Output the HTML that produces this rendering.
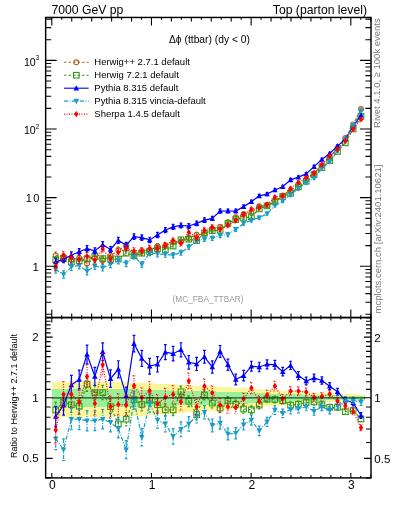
<!DOCTYPE html>
<html><head><meta charset="utf-8"><style>html,body{margin:0;padding:0;background:#fff;width:393px;height:512px;overflow:hidden}svg{display:block;will-change:transform}</style></head><body>
<svg width="393" height="512" viewBox="0 0 393 512">
<rect width="393" height="512" fill="#fff"/>
<path d="M51.80 381.81H59.63V417.27H51.80ZM59.63 381.88H67.46V417.16H59.63ZM67.46 381.95H75.28V417.05H67.46ZM75.28 382.03H83.11V416.95H75.28ZM83.11 382.10H90.94V416.84H83.11ZM90.94 382.17H98.77V416.73H90.94ZM98.77 382.25H106.60V416.62H98.77ZM106.60 382.32H114.42V416.51H106.60ZM114.42 382.39H122.25V416.40H114.42ZM122.25 382.47H130.08V416.29H122.25ZM130.08 382.54H137.91V416.19H130.08ZM137.91 382.91H145.74V415.65H137.91ZM145.74 383.28H153.56V415.11H145.74ZM153.56 383.65H161.39V414.58H153.56ZM161.39 384.02H169.22V414.05H161.39ZM169.22 384.40H177.05V413.53H169.22ZM177.05 384.77H184.88V413.01H177.05ZM184.88 385.15H192.71V412.49H184.88ZM192.71 385.53H200.53V411.97H192.71ZM200.53 385.91H208.36V411.46H200.53ZM208.36 386.39H216.19V410.82H208.36ZM216.19 386.87H224.02V410.19H216.19ZM224.02 387.36H231.85V409.56H224.02ZM231.85 387.84H239.67V408.94H231.85ZM239.67 388.35H247.50V408.30H239.67ZM247.50 388.85H255.33V407.67H247.50ZM255.33 389.36H263.16V407.04H255.33ZM263.16 389.87H270.99V406.42H263.16ZM270.99 390.39H278.81V405.80H270.99ZM278.81 390.91H286.64V405.18H278.81ZM286.64 391.43H294.47V404.57H286.64ZM294.47 391.84H302.30V404.10H294.47ZM302.30 392.25H310.13V403.63H302.30ZM310.13 392.66H317.95V403.17H310.13ZM317.95 393.07H325.78V402.70H317.95ZM325.78 393.49H333.61V402.24H325.78ZM333.61 393.80H341.44V401.90H333.61ZM341.44 394.11H349.27V401.55H341.44ZM349.27 394.43H357.09V401.21H349.27ZM357.09 394.75H364.92V400.87H357.09Z" fill="#fdf59a" shape-rendering="crispEdges"/>
<path d="M51.80 389.42H59.63V406.97H51.80ZM59.63 389.42H67.46V406.97H59.63ZM67.46 389.42H75.28V406.97H67.46ZM75.28 389.42H83.11V406.97H75.28ZM83.11 389.42H90.94V406.97H83.11ZM90.94 389.42H98.77V406.97H90.94ZM98.77 389.42H106.60V406.97H98.77ZM106.60 389.42H114.42V406.97H106.60ZM114.42 389.42H122.25V406.97H114.42ZM122.25 389.42H130.08V406.97H122.25ZM130.08 389.42H137.91V406.97H130.08ZM137.91 389.66H145.74V406.68H137.91ZM145.74 389.90H153.56V406.39H145.74ZM153.56 390.14H161.39V406.10H153.56ZM161.39 390.38H169.22V405.81H161.39ZM169.22 390.62H177.05V405.52H169.22ZM177.05 390.76H184.88V405.36H177.05ZM184.88 390.90H192.71V405.19H184.88ZM192.71 391.04H200.53V405.02H192.71ZM200.53 391.19H208.36V404.86H200.53ZM208.36 391.35H216.19V404.67H208.36ZM216.19 391.51H224.02V404.48H216.19ZM224.02 391.67H231.85V404.29H224.02ZM231.85 391.84H239.67V404.10H231.85ZM239.67 392.19H247.50V403.70H239.67ZM247.50 392.54H255.33V403.30H247.50ZM255.33 392.89H263.16V402.90H255.33ZM263.16 393.25H270.99V402.50H263.16ZM270.99 393.61H278.81V402.11H270.99ZM278.81 393.96H286.64V401.72H278.81ZM286.64 394.32H294.47V401.33H286.64ZM294.47 394.49H302.30V401.14H294.47ZM302.30 394.66H310.13V400.96H302.30ZM310.13 394.83H317.95V400.78H310.13ZM317.95 395.00H325.78V400.60H317.95ZM325.78 395.17H333.61V400.42H325.78ZM333.61 395.38H341.44V400.19H333.61ZM341.44 395.60H349.27V399.97H341.44ZM349.27 395.81H357.09V399.75H349.27ZM357.09 396.02H364.92V399.52H357.09Z" fill="#9cf09a" shape-rendering="crispEdges"/>
<defs><clipPath id="cu"><rect x="45.6" y="17.4" width="325.4" height="300.1"/></clipPath>
<clipPath id="cl"><rect x="45.6" y="317.6" width="325.4" height="160.3"/></clipPath></defs>
<g clip-path="url(#cl)"><polyline points="55.71,410.00 63.54,402.30 71.37,404.80 79.20,406.30 87.03,384.00 94.85,392.60 102.68,392.60 110.51,406.70 118.34,423.90 126.17,419.20 133.99,399.60 141.82,404.40 149.65,400.40 157.48,404.70 165.31,409.80 173.13,409.80 180.96,391.80 188.79,401.20 196.62,414.60 204.45,394.90 212.28,403.10 220.10,408.00 227.93,401.10 235.76,404.30 243.59,409.00 251.42,409.80 259.24,405.10 267.07,399.00 274.90,399.50 282.73,400.60 290.56,405.10 298.38,404.30 306.21,402.50 314.04,402.00 321.87,404.60 329.70,407.30 337.52,407.30 345.35,411.70 353.18,410.50 361.01,419.00" fill="none" stroke="#3a9a1a" stroke-width="1.2" stroke-dasharray="2.5,2"/><path d="M55.71 402.00V418.00M54.31 402.00H57.11M54.31 418.00H57.11M63.54 394.44V410.16M62.14 394.44H64.94M62.14 410.16H64.94M71.37 397.09V412.51M69.97 397.09H72.77M69.97 412.51H72.77M79.20 398.73V413.87M77.80 398.73H80.60M77.80 413.87H80.60M87.03 376.57V391.43M85.63 376.57H88.43M85.63 391.43H88.43M94.85 385.31V399.89M93.45 385.31H96.25M93.45 399.89H96.25M102.68 385.46V399.74M101.28 385.46H104.08M101.28 399.74H104.08M110.51 399.70V413.70M109.11 399.70H111.91M109.11 413.70H111.91M118.34 417.04V430.76M116.94 417.04H119.74M116.94 430.76H119.74M126.17 412.49V425.91M124.77 412.49H127.57M124.77 425.91H127.57M133.99 393.03V406.17M132.59 393.03H135.39M132.59 406.17H135.39M141.82 397.97V410.83M140.42 397.97H143.22M140.42 410.83H143.22M149.65 394.11V406.69M148.25 394.11H151.05M148.25 406.69H151.05M157.48 398.56V410.84M156.08 398.56H158.88M156.08 410.84H158.88M165.31 403.80V415.80M163.91 403.80H166.71M163.91 415.80H166.71M173.13 403.99V415.61M171.73 403.99H174.53M171.73 415.61H174.53M180.96 386.18V397.42M179.56 386.18H182.36M179.56 397.42H182.36M188.79 395.78V406.62M187.39 395.78H190.19M187.39 406.62H190.19M196.62 409.37V419.83M195.22 409.37H198.02M195.22 419.83H198.02M204.45 389.86V399.94M203.05 389.86H205.85M203.05 399.94H205.85M212.28 398.25V407.95M210.88 398.25H213.68M210.88 407.95H213.68M220.10 403.35V412.65M218.70 403.35H221.50M218.70 412.65H221.50M227.93 396.64V405.56M226.53 396.64H229.33M226.53 405.56H229.33M235.76 400.03V408.57M234.36 400.03H237.16M234.36 408.57H237.16M243.59 404.92V413.08M242.19 404.92H244.99M242.19 413.08H244.99M251.42 405.92V413.68M250.02 405.92H252.82M250.02 413.68H252.82M259.24 401.41V408.79M257.84 401.41H260.64M257.84 408.79H260.64M267.07 395.50V402.50M265.67 395.50H268.47M265.67 402.50H268.47M274.90 396.08V402.92M273.50 396.08H276.30M273.50 402.92H276.30M282.73 397.27V403.93M281.33 397.27H284.13M281.33 403.93H284.13M290.56 401.85V408.35M289.16 401.85H291.96M289.16 408.35H291.96M298.38 401.13V407.47M296.98 401.13H299.78M296.98 407.47H299.78M306.21 399.42V405.58M304.81 399.42H307.61M304.81 405.58H307.61M314.04 399.00V405.00M312.64 399.00H315.44M312.64 405.00H315.44M321.87 401.68V407.52M320.47 401.68H323.27M320.47 407.52H323.27M329.70 404.47V410.13M328.30 404.47H331.10M328.30 410.13H331.10M337.52 404.55V410.05M336.12 404.55H338.92M336.12 410.05H338.92M345.35 409.03V414.37M343.95 409.03H346.75M343.95 414.37H346.75M353.18 407.92V413.08M351.78 407.92H354.58M351.78 413.08H354.58M361.01 416.50V421.50M359.61 416.50H362.41M359.61 421.50H362.41" fill="none" stroke="#3a9a1a" stroke-width="1.2" stroke-dasharray="2.5,2"/><rect x="52.91" y="407.20" width="5.60" height="5.60" fill="none" stroke="#3a9a1a" stroke-width="1.1"/><rect x="60.74" y="399.50" width="5.60" height="5.60" fill="none" stroke="#3a9a1a" stroke-width="1.1"/><rect x="68.57" y="402.00" width="5.60" height="5.60" fill="none" stroke="#3a9a1a" stroke-width="1.1"/><rect x="76.40" y="403.50" width="5.60" height="5.60" fill="none" stroke="#3a9a1a" stroke-width="1.1"/><rect x="84.23" y="381.20" width="5.60" height="5.60" fill="none" stroke="#3a9a1a" stroke-width="1.1"/><rect x="92.05" y="389.80" width="5.60" height="5.60" fill="none" stroke="#3a9a1a" stroke-width="1.1"/><rect x="99.88" y="389.80" width="5.60" height="5.60" fill="none" stroke="#3a9a1a" stroke-width="1.1"/><rect x="107.71" y="403.90" width="5.60" height="5.60" fill="none" stroke="#3a9a1a" stroke-width="1.1"/><rect x="115.54" y="421.10" width="5.60" height="5.60" fill="none" stroke="#3a9a1a" stroke-width="1.1"/><rect x="123.37" y="416.40" width="5.60" height="5.60" fill="none" stroke="#3a9a1a" stroke-width="1.1"/><rect x="131.19" y="396.80" width="5.60" height="5.60" fill="none" stroke="#3a9a1a" stroke-width="1.1"/><rect x="139.02" y="401.60" width="5.60" height="5.60" fill="none" stroke="#3a9a1a" stroke-width="1.1"/><rect x="146.85" y="397.60" width="5.60" height="5.60" fill="none" stroke="#3a9a1a" stroke-width="1.1"/><rect x="154.68" y="401.90" width="5.60" height="5.60" fill="none" stroke="#3a9a1a" stroke-width="1.1"/><rect x="162.51" y="407.00" width="5.60" height="5.60" fill="none" stroke="#3a9a1a" stroke-width="1.1"/><rect x="170.33" y="407.00" width="5.60" height="5.60" fill="none" stroke="#3a9a1a" stroke-width="1.1"/><rect x="178.16" y="389.00" width="5.60" height="5.60" fill="none" stroke="#3a9a1a" stroke-width="1.1"/><rect x="185.99" y="398.40" width="5.60" height="5.60" fill="none" stroke="#3a9a1a" stroke-width="1.1"/><rect x="193.82" y="411.80" width="5.60" height="5.60" fill="none" stroke="#3a9a1a" stroke-width="1.1"/><rect x="201.65" y="392.10" width="5.60" height="5.60" fill="none" stroke="#3a9a1a" stroke-width="1.1"/><rect x="209.48" y="400.30" width="5.60" height="5.60" fill="none" stroke="#3a9a1a" stroke-width="1.1"/><rect x="217.30" y="405.20" width="5.60" height="5.60" fill="none" stroke="#3a9a1a" stroke-width="1.1"/><rect x="225.13" y="398.30" width="5.60" height="5.60" fill="none" stroke="#3a9a1a" stroke-width="1.1"/><rect x="232.96" y="401.50" width="5.60" height="5.60" fill="none" stroke="#3a9a1a" stroke-width="1.1"/><rect x="240.79" y="406.20" width="5.60" height="5.60" fill="none" stroke="#3a9a1a" stroke-width="1.1"/><rect x="248.62" y="407.00" width="5.60" height="5.60" fill="none" stroke="#3a9a1a" stroke-width="1.1"/><rect x="256.44" y="402.30" width="5.60" height="5.60" fill="none" stroke="#3a9a1a" stroke-width="1.1"/><rect x="264.27" y="396.20" width="5.60" height="5.60" fill="none" stroke="#3a9a1a" stroke-width="1.1"/><rect x="272.10" y="396.70" width="5.60" height="5.60" fill="none" stroke="#3a9a1a" stroke-width="1.1"/><rect x="279.93" y="397.80" width="5.60" height="5.60" fill="none" stroke="#3a9a1a" stroke-width="1.1"/><rect x="287.76" y="402.30" width="5.60" height="5.60" fill="none" stroke="#3a9a1a" stroke-width="1.1"/><rect x="295.58" y="401.50" width="5.60" height="5.60" fill="none" stroke="#3a9a1a" stroke-width="1.1"/><rect x="303.41" y="399.70" width="5.60" height="5.60" fill="none" stroke="#3a9a1a" stroke-width="1.1"/><rect x="311.24" y="399.20" width="5.60" height="5.60" fill="none" stroke="#3a9a1a" stroke-width="1.1"/><rect x="319.07" y="401.80" width="5.60" height="5.60" fill="none" stroke="#3a9a1a" stroke-width="1.1"/><rect x="326.90" y="404.50" width="5.60" height="5.60" fill="none" stroke="#3a9a1a" stroke-width="1.1"/><rect x="334.72" y="404.50" width="5.60" height="5.60" fill="none" stroke="#3a9a1a" stroke-width="1.1"/><rect x="342.55" y="408.90" width="5.60" height="5.60" fill="none" stroke="#3a9a1a" stroke-width="1.1"/><rect x="350.38" y="407.70" width="5.60" height="5.60" fill="none" stroke="#3a9a1a" stroke-width="1.1"/><rect x="358.21" y="416.20" width="5.60" height="5.60" fill="none" stroke="#3a9a1a" stroke-width="1.1"/></g>
<g clip-path="url(#cl)"><polyline points="55.71,416.40 63.54,405.30 71.37,385.00 79.20,379.50 87.03,354.50 94.85,376.40 102.68,351.80 110.51,378.70 118.34,369.30 126.17,395.60 133.99,343.60 141.82,358.40 149.65,366.20 157.48,364.30 165.31,352.20 173.13,353.70 180.96,349.80 188.79,362.30 196.62,363.90 204.45,356.80 212.28,367.00 220.10,351.40 227.93,364.70 235.76,379.50 243.59,375.60 251.42,366.20 259.24,367.00 267.07,364.30 274.90,364.70 282.73,371.70 290.56,365.40 298.38,375.60 306.21,381.00 314.04,377.90 321.87,380.50 329.70,386.20 337.52,391.70 345.35,400.30 353.18,402.70 361.01,415.50" fill="none" stroke="#0000ff" stroke-width="1.2"/><path d="M55.71 406.40V426.40M54.31 406.40H57.11M54.31 426.40H57.11M63.54 395.48V415.12M62.14 395.48H64.94M62.14 415.12H64.94M71.37 375.36V394.64M69.97 375.36H72.77M69.97 394.64H72.77M79.20 370.04V388.96M77.80 370.04H80.60M77.80 388.96H80.60M87.03 345.21V363.79M85.63 345.21H88.43M85.63 363.79H88.43M94.85 367.29V385.51M93.45 367.29H96.25M93.45 385.51H96.25M102.68 342.87V360.73M101.28 342.87H104.08M101.28 360.73H104.08M110.51 369.95V387.45M109.11 369.95H111.91M109.11 387.45H111.91M118.34 360.73V377.87M116.94 360.73H119.74M116.94 377.87H119.74M126.17 387.21V403.99M124.77 387.21H127.57M124.77 403.99H127.57M133.99 335.39V351.81M132.59 335.39H135.39M132.59 351.81H135.39M141.82 350.36V366.44M140.42 350.36H143.22M140.42 366.44H143.22M149.65 358.34V374.06M148.25 358.34H151.05M148.25 374.06H151.05M157.48 356.62V371.98M156.08 356.62H158.88M156.08 371.98H158.88M165.31 344.70V359.70M163.91 344.70H166.71M163.91 359.70H166.71M173.13 346.43V360.97M171.73 346.43H174.53M171.73 360.97H174.53M180.96 342.76V356.84M179.56 342.76H182.36M179.56 356.84H182.36M188.79 355.49V369.11M187.39 355.49H190.19M187.39 369.11H190.19M196.62 357.32V370.48M195.22 357.32H198.02M195.22 370.48H198.02M204.45 350.45V363.15M203.05 350.45H205.85M203.05 363.15H205.85M212.28 360.88V373.12M210.88 360.88H213.68M210.88 373.12H213.68M220.10 345.52V357.28M218.70 345.52H221.50M218.70 357.28H221.50M227.93 359.05V370.35M226.53 359.05H229.33M226.53 370.35H229.33M235.76 374.08V384.92M234.36 374.08H237.16M234.36 384.92H237.16M243.59 370.41V380.79M242.19 370.41H244.99M242.19 380.79H244.99M251.42 361.24V371.16M250.02 361.24H252.82M250.02 371.16H252.82M259.24 362.27V371.73M257.84 362.27H260.64M257.84 371.73H260.64M267.07 359.80V368.80M265.67 359.80H268.47M265.67 368.80H268.47M274.90 360.32V369.07M273.50 360.32H276.30M273.50 369.07H276.30M282.73 367.45V375.95M281.33 367.45H284.13M281.33 375.95H284.13M290.56 361.27V369.52M289.16 361.27H291.96M289.16 369.52H291.96M298.38 371.60V379.60M296.98 371.60H299.78M296.98 379.60H299.78M306.21 377.12V384.88M304.81 377.12H307.61M304.81 384.88H307.61M314.04 374.15V381.65M312.64 374.15H315.44M312.64 381.65H315.44M321.87 376.88V384.12M320.47 376.88H323.27M320.47 384.12H323.27M329.70 382.70V389.70M328.30 382.70H331.10M328.30 389.70H331.10M337.52 388.32V395.07M336.12 388.32H338.92M336.12 395.07H338.92M345.35 397.05V403.55M343.95 397.05H346.75M343.95 403.55H346.75M353.18 399.57V405.82M351.78 399.57H354.58M351.78 405.82H354.58M361.01 412.50V418.50M359.61 412.50H362.41M359.61 418.50H362.41" fill="none" stroke="#0000ff" stroke-width="1.2"/><path d="M55.71 413.40L58.46 418.70L52.96 418.70Z" fill="#0000ff"/><path d="M63.54 402.30L66.29 407.60L60.79 407.60Z" fill="#0000ff"/><path d="M71.37 382.00L74.12 387.30L68.62 387.30Z" fill="#0000ff"/><path d="M79.20 376.50L81.95 381.80L76.45 381.80Z" fill="#0000ff"/><path d="M87.03 351.50L89.78 356.80L84.28 356.80Z" fill="#0000ff"/><path d="M94.85 373.40L97.60 378.70L92.10 378.70Z" fill="#0000ff"/><path d="M102.68 348.80L105.43 354.10L99.93 354.10Z" fill="#0000ff"/><path d="M110.51 375.70L113.26 381.00L107.76 381.00Z" fill="#0000ff"/><path d="M118.34 366.30L121.09 371.60L115.59 371.60Z" fill="#0000ff"/><path d="M126.17 392.60L128.92 397.90L123.42 397.90Z" fill="#0000ff"/><path d="M133.99 340.60L136.74 345.90L131.24 345.90Z" fill="#0000ff"/><path d="M141.82 355.40L144.57 360.70L139.07 360.70Z" fill="#0000ff"/><path d="M149.65 363.20L152.40 368.50L146.90 368.50Z" fill="#0000ff"/><path d="M157.48 361.30L160.23 366.60L154.73 366.60Z" fill="#0000ff"/><path d="M165.31 349.20L168.06 354.50L162.56 354.50Z" fill="#0000ff"/><path d="M173.13 350.70L175.88 356.00L170.38 356.00Z" fill="#0000ff"/><path d="M180.96 346.80L183.71 352.10L178.21 352.10Z" fill="#0000ff"/><path d="M188.79 359.30L191.54 364.60L186.04 364.60Z" fill="#0000ff"/><path d="M196.62 360.90L199.37 366.20L193.87 366.20Z" fill="#0000ff"/><path d="M204.45 353.80L207.20 359.10L201.70 359.10Z" fill="#0000ff"/><path d="M212.28 364.00L215.03 369.30L209.53 369.30Z" fill="#0000ff"/><path d="M220.10 348.40L222.85 353.70L217.35 353.70Z" fill="#0000ff"/><path d="M227.93 361.70L230.68 367.00L225.18 367.00Z" fill="#0000ff"/><path d="M235.76 376.50L238.51 381.80L233.01 381.80Z" fill="#0000ff"/><path d="M243.59 372.60L246.34 377.90L240.84 377.90Z" fill="#0000ff"/><path d="M251.42 363.20L254.17 368.50L248.67 368.50Z" fill="#0000ff"/><path d="M259.24 364.00L261.99 369.30L256.49 369.30Z" fill="#0000ff"/><path d="M267.07 361.30L269.82 366.60L264.32 366.60Z" fill="#0000ff"/><path d="M274.90 361.70L277.65 367.00L272.15 367.00Z" fill="#0000ff"/><path d="M282.73 368.70L285.48 374.00L279.98 374.00Z" fill="#0000ff"/><path d="M290.56 362.40L293.31 367.70L287.81 367.70Z" fill="#0000ff"/><path d="M298.38 372.60L301.13 377.90L295.63 377.90Z" fill="#0000ff"/><path d="M306.21 378.00L308.96 383.30L303.46 383.30Z" fill="#0000ff"/><path d="M314.04 374.90L316.79 380.20L311.29 380.20Z" fill="#0000ff"/><path d="M321.87 377.50L324.62 382.80L319.12 382.80Z" fill="#0000ff"/><path d="M329.70 383.20L332.45 388.50L326.95 388.50Z" fill="#0000ff"/><path d="M337.52 388.70L340.27 394.00L334.77 394.00Z" fill="#0000ff"/><path d="M345.35 397.30L348.10 402.60L342.60 402.60Z" fill="#0000ff"/><path d="M353.18 399.70L355.93 405.00L350.43 405.00Z" fill="#0000ff"/><path d="M361.01 412.50L363.76 417.80L358.26 417.80Z" fill="#0000ff"/></g>
<g clip-path="url(#cl)"><polyline points="55.71,438.70 63.54,449.70 71.37,419.20 79.20,419.20 87.03,420.75 94.85,420.75 102.68,419.20 110.51,422.30 118.34,428.60 126.17,449.70 133.99,400.20 141.82,437.20 149.65,403.60 157.48,420.00 165.31,423.90 173.13,436.40 180.96,429.30 188.79,423.90 196.62,416.10 204.45,412.20 212.28,425.40 220.10,423.10 227.93,434.00 235.76,433.25 243.59,424.70 251.42,420.00 259.24,430.90 267.07,421.90 274.90,410.10 282.73,413.40 290.56,409.70 298.38,408.80 306.21,406.90 314.04,411.40 321.87,407.00 329.70,410.40 337.52,405.75 345.35,401.70 353.18,400.20 361.01,402.30" fill="none" stroke="#1a9cc8" stroke-width="1.2" stroke-dasharray="4,1.5,1,1.5"/><path d="M55.71 427.70V449.70M54.31 427.70H57.11M54.31 449.70H57.11M63.54 438.91V460.49M62.14 438.91H64.94M62.14 460.49H64.94M71.37 408.63V429.77M69.97 408.63H72.77M69.97 429.77H72.77M79.20 408.84V429.56M77.80 408.84H80.60M77.80 429.56H80.60M87.03 410.61V430.89M85.63 410.61H88.43M85.63 430.89H88.43M94.85 410.82V430.68M93.45 410.82H96.25M93.45 430.68H96.25M102.68 409.49V428.91M101.28 409.49H104.08M101.28 428.91H104.08M110.51 412.80V431.80M109.11 412.80H111.91M109.11 431.80H111.91M118.34 419.31V437.89M116.94 419.31H119.74M116.94 437.89H119.74M126.17 440.63V458.77M124.77 440.63H127.57M124.77 458.77H127.57M133.99 391.34V409.06M132.59 391.34H135.39M132.59 409.06H135.39M141.82 428.56V445.84M140.42 428.56H143.22M140.42 445.84H143.22M149.65 395.17V412.03M148.25 395.17H151.05M148.25 412.03H151.05M157.48 411.79V428.21M156.08 411.79H158.88M156.08 428.21H158.88M165.31 415.90V431.90M163.91 415.90H166.71M163.91 431.90H166.71M173.13 428.67V444.13M171.73 428.67H174.53M171.73 444.13H174.53M180.96 421.84V436.76M179.56 421.84H182.36M179.56 436.76H182.36M188.79 416.71V431.09M187.39 416.71H190.19M187.39 431.09H190.19M196.62 409.18V423.02M195.22 409.18H198.02M195.22 423.02H198.02M204.45 405.55V418.85M203.05 405.55H205.85M203.05 418.85H205.85M212.28 419.02V431.78M210.88 419.02H213.68M210.88 431.78H213.68M220.10 416.98V429.22M218.70 416.98H221.50M218.70 429.22H221.50M227.93 428.15V439.85M226.53 428.15H229.33M226.53 439.85H229.33M235.76 427.67V438.83M234.36 427.67H237.16M234.36 438.83H237.16M243.59 419.39V430.01M242.19 419.39H244.99M242.19 430.01H244.99M251.42 414.96V425.04M250.02 414.96H252.82M250.02 425.04H252.82M259.24 426.13V435.67M257.84 426.13H260.64M257.84 435.67H260.64M267.07 417.40V426.40M265.67 417.40H268.47M265.67 426.40H268.47M274.90 405.73V414.48M273.50 405.73H276.30M273.50 414.48H276.30M282.73 409.15V417.65M281.33 409.15H284.13M281.33 417.65H284.13M290.56 405.57V413.82M289.16 405.57H291.96M289.16 413.82H291.96M298.38 404.80V412.80M296.98 404.80H299.78M296.98 412.80H299.78M306.21 403.02V410.77M304.81 403.02H307.61M304.81 410.77H307.61M314.04 407.65V415.15M312.64 407.65H315.44M312.64 415.15H315.44M321.87 403.38V410.62M320.47 403.38H323.27M320.47 410.62H323.27M329.70 406.90V413.90M328.30 406.90H331.10M328.30 413.90H331.10M337.52 402.38V409.12M336.12 402.38H338.92M336.12 409.12H338.92M345.35 398.45V404.95M343.95 398.45H346.75M343.95 404.95H346.75M353.18 397.07V403.32M351.78 397.07H354.58M351.78 403.32H354.58M361.01 399.30V405.30M359.61 399.30H362.41M359.61 405.30H362.41" fill="none" stroke="#1a9cc8" stroke-width="1.2" stroke-dasharray="4,1.5,1,1.5"/><path d="M55.71 441.70L58.46 436.40L52.96 436.40Z" fill="#1a9cc8"/><path d="M63.54 452.70L66.29 447.40L60.79 447.40Z" fill="#1a9cc8"/><path d="M71.37 422.20L74.12 416.90L68.62 416.90Z" fill="#1a9cc8"/><path d="M79.20 422.20L81.95 416.90L76.45 416.90Z" fill="#1a9cc8"/><path d="M87.03 423.75L89.78 418.45L84.28 418.45Z" fill="#1a9cc8"/><path d="M94.85 423.75L97.60 418.45L92.10 418.45Z" fill="#1a9cc8"/><path d="M102.68 422.20L105.43 416.90L99.93 416.90Z" fill="#1a9cc8"/><path d="M110.51 425.30L113.26 420.00L107.76 420.00Z" fill="#1a9cc8"/><path d="M118.34 431.60L121.09 426.30L115.59 426.30Z" fill="#1a9cc8"/><path d="M126.17 452.70L128.92 447.40L123.42 447.40Z" fill="#1a9cc8"/><path d="M133.99 403.20L136.74 397.90L131.24 397.90Z" fill="#1a9cc8"/><path d="M141.82 440.20L144.57 434.90L139.07 434.90Z" fill="#1a9cc8"/><path d="M149.65 406.60L152.40 401.30L146.90 401.30Z" fill="#1a9cc8"/><path d="M157.48 423.00L160.23 417.70L154.73 417.70Z" fill="#1a9cc8"/><path d="M165.31 426.90L168.06 421.60L162.56 421.60Z" fill="#1a9cc8"/><path d="M173.13 439.40L175.88 434.10L170.38 434.10Z" fill="#1a9cc8"/><path d="M180.96 432.30L183.71 427.00L178.21 427.00Z" fill="#1a9cc8"/><path d="M188.79 426.90L191.54 421.60L186.04 421.60Z" fill="#1a9cc8"/><path d="M196.62 419.10L199.37 413.80L193.87 413.80Z" fill="#1a9cc8"/><path d="M204.45 415.20L207.20 409.90L201.70 409.90Z" fill="#1a9cc8"/><path d="M212.28 428.40L215.03 423.10L209.53 423.10Z" fill="#1a9cc8"/><path d="M220.10 426.10L222.85 420.80L217.35 420.80Z" fill="#1a9cc8"/><path d="M227.93 437.00L230.68 431.70L225.18 431.70Z" fill="#1a9cc8"/><path d="M235.76 436.25L238.51 430.95L233.01 430.95Z" fill="#1a9cc8"/><path d="M243.59 427.70L246.34 422.40L240.84 422.40Z" fill="#1a9cc8"/><path d="M251.42 423.00L254.17 417.70L248.67 417.70Z" fill="#1a9cc8"/><path d="M259.24 433.90L261.99 428.60L256.49 428.60Z" fill="#1a9cc8"/><path d="M267.07 424.90L269.82 419.60L264.32 419.60Z" fill="#1a9cc8"/><path d="M274.90 413.10L277.65 407.80L272.15 407.80Z" fill="#1a9cc8"/><path d="M282.73 416.40L285.48 411.10L279.98 411.10Z" fill="#1a9cc8"/><path d="M290.56 412.70L293.31 407.40L287.81 407.40Z" fill="#1a9cc8"/><path d="M298.38 411.80L301.13 406.50L295.63 406.50Z" fill="#1a9cc8"/><path d="M306.21 409.90L308.96 404.60L303.46 404.60Z" fill="#1a9cc8"/><path d="M314.04 414.40L316.79 409.10L311.29 409.10Z" fill="#1a9cc8"/><path d="M321.87 410.00L324.62 404.70L319.12 404.70Z" fill="#1a9cc8"/><path d="M329.70 413.40L332.45 408.10L326.95 408.10Z" fill="#1a9cc8"/><path d="M337.52 408.75L340.27 403.45L334.77 403.45Z" fill="#1a9cc8"/><path d="M345.35 404.70L348.10 399.40L342.60 399.40Z" fill="#1a9cc8"/><path d="M353.18 403.20L355.93 397.90L350.43 397.90Z" fill="#1a9cc8"/><path d="M361.01 405.30L363.76 400.00L358.26 400.00Z" fill="#1a9cc8"/></g>
<g clip-path="url(#cl)"><polyline points="55.71,430.10 63.54,394.20 71.37,394.20 79.20,402.20 87.03,376.40 94.85,403.60 102.68,364.70 110.51,406.80 118.34,404.40 126.17,405.10 133.99,385.70 141.82,397.60 149.65,390.80 157.48,404.00 165.31,397.30 173.13,394.20 180.96,402.00 188.79,380.90 196.62,406.80 204.45,386.30 212.28,392.90 220.10,405.10 227.93,406.80 235.76,407.50 243.59,398.90 251.42,388.00 259.24,401.20 267.07,395.00 274.90,386.00 282.73,398.90 290.56,391.10 298.38,391.10 306.21,392.00 314.04,397.30 321.87,396.40 329.70,394.00 337.52,401.00 345.35,406.00 353.18,411.40 361.01,427.70" fill="none" stroke="#ff0000" stroke-width="1.2" stroke-dasharray="1,1.5"/><path d="M55.71 417.10V443.10M54.31 417.10H57.11M54.31 443.10H57.11M63.54 381.49V406.91M62.14 381.49H64.94M62.14 406.91H64.94M71.37 381.77V406.63M69.97 381.77H72.77M69.97 406.63H72.77M79.20 390.06V414.34M77.80 390.06H80.60M77.80 414.34H80.60M87.03 364.54V388.26M85.63 364.54H88.43M85.63 388.26H88.43M94.85 392.03V415.17M93.45 392.03H96.25M93.45 415.17H96.25M102.68 353.41V375.99M101.28 353.41H104.08M101.28 375.99H104.08M110.51 395.80V417.80M109.11 395.80H111.91M109.11 417.80H111.91M118.34 393.69V415.11M116.94 393.69H119.74M116.94 415.11H119.74M126.17 394.67V415.53M124.77 394.67H127.57M124.77 415.53H127.57M133.99 375.56V395.84M132.59 375.56H135.39M132.59 395.84H135.39M141.82 387.74V407.46M140.42 387.74H143.22M140.42 407.46H143.22M149.65 381.23V400.37M148.25 381.23H151.05M148.25 400.37H151.05M157.48 394.71V413.29M156.08 394.71H158.88M156.08 413.29H158.88M165.31 388.30V406.30M163.91 388.30H166.71M163.91 406.30H166.71M173.13 385.51V402.89M171.73 385.51H174.53M171.73 402.89H174.53M180.96 393.62V410.38M179.56 393.62H182.36M179.56 410.38H182.36M188.79 372.82V388.98M187.39 372.82H190.19M187.39 388.98H190.19M196.62 399.03V414.57M195.22 399.03H198.02M195.22 414.57H198.02M204.45 378.84V393.76M203.05 378.84H205.85M203.05 393.76H205.85M212.28 385.75V400.05M210.88 385.75H213.68M210.88 400.05H213.68M220.10 398.25V411.95M218.70 398.25H221.50M218.70 411.95H221.50M227.93 400.26V413.34M226.53 400.26H229.33M226.53 413.34H229.33M235.76 401.27V413.73M234.36 401.27H237.16M234.36 413.73H237.16M243.59 392.98V404.82M242.19 392.98H244.99M242.19 404.82H244.99M251.42 382.38V393.62M250.02 382.38H252.82M250.02 393.62H252.82M259.24 395.89V406.51M257.84 395.89H260.64M257.84 406.51H260.64M267.07 390.00V400.00M265.67 390.00H268.47M265.67 400.00H268.47M274.90 381.17V390.83M273.50 381.17H276.30M273.50 390.83H276.30M282.73 394.23V403.57M281.33 394.23H284.13M281.33 403.57H284.13M290.56 386.60V395.60M289.16 386.60H291.96M289.16 395.60H291.96M298.38 386.77V395.43M296.98 386.77H299.78M296.98 395.43H299.78M306.21 387.83V396.17M304.81 387.83H307.61M304.81 396.17H307.61M314.04 393.30V401.30M312.64 393.30H315.44M312.64 401.30H315.44M321.87 392.57V400.23M320.47 392.57H323.27M320.47 400.23H323.27M329.70 390.33V397.67M328.30 390.33H331.10M328.30 397.67H331.10M337.52 397.50V404.50M336.12 397.50H338.92M336.12 404.50H338.92M345.35 402.67V409.33M343.95 402.67H346.75M343.95 409.33H346.75M353.18 408.23V414.57M351.78 408.23H354.58M351.78 414.57H354.58M361.01 424.70V430.70M359.61 424.70H362.41M359.61 430.70H362.41" fill="none" stroke="#ff0000" stroke-width="1.2" stroke-dasharray="1,1.5"/><path d="M55.71 426.90L57.91 430.10L55.71 433.30L53.51 430.10Z" fill="#ff0000"/><path d="M63.54 391.00L65.74 394.20L63.54 397.40L61.34 394.20Z" fill="#ff0000"/><path d="M71.37 391.00L73.57 394.20L71.37 397.40L69.17 394.20Z" fill="#ff0000"/><path d="M79.20 399.00L81.40 402.20L79.20 405.40L77.00 402.20Z" fill="#ff0000"/><path d="M87.03 373.20L89.23 376.40L87.03 379.60L84.83 376.40Z" fill="#ff0000"/><path d="M94.85 400.40L97.05 403.60L94.85 406.80L92.65 403.60Z" fill="#ff0000"/><path d="M102.68 361.50L104.88 364.70L102.68 367.90L100.48 364.70Z" fill="#ff0000"/><path d="M110.51 403.60L112.71 406.80L110.51 410.00L108.31 406.80Z" fill="#ff0000"/><path d="M118.34 401.20L120.54 404.40L118.34 407.60L116.14 404.40Z" fill="#ff0000"/><path d="M126.17 401.90L128.37 405.10L126.17 408.30L123.97 405.10Z" fill="#ff0000"/><path d="M133.99 382.50L136.19 385.70L133.99 388.90L131.79 385.70Z" fill="#ff0000"/><path d="M141.82 394.40L144.02 397.60L141.82 400.80L139.62 397.60Z" fill="#ff0000"/><path d="M149.65 387.60L151.85 390.80L149.65 394.00L147.45 390.80Z" fill="#ff0000"/><path d="M157.48 400.80L159.68 404.00L157.48 407.20L155.28 404.00Z" fill="#ff0000"/><path d="M165.31 394.10L167.51 397.30L165.31 400.50L163.11 397.30Z" fill="#ff0000"/><path d="M173.13 391.00L175.33 394.20L173.13 397.40L170.93 394.20Z" fill="#ff0000"/><path d="M180.96 398.80L183.16 402.00L180.96 405.20L178.76 402.00Z" fill="#ff0000"/><path d="M188.79 377.70L190.99 380.90L188.79 384.10L186.59 380.90Z" fill="#ff0000"/><path d="M196.62 403.60L198.82 406.80L196.62 410.00L194.42 406.80Z" fill="#ff0000"/><path d="M204.45 383.10L206.65 386.30L204.45 389.50L202.25 386.30Z" fill="#ff0000"/><path d="M212.28 389.70L214.48 392.90L212.28 396.10L210.08 392.90Z" fill="#ff0000"/><path d="M220.10 401.90L222.30 405.10L220.10 408.30L217.90 405.10Z" fill="#ff0000"/><path d="M227.93 403.60L230.13 406.80L227.93 410.00L225.73 406.80Z" fill="#ff0000"/><path d="M235.76 404.30L237.96 407.50L235.76 410.70L233.56 407.50Z" fill="#ff0000"/><path d="M243.59 395.70L245.79 398.90L243.59 402.10L241.39 398.90Z" fill="#ff0000"/><path d="M251.42 384.80L253.62 388.00L251.42 391.20L249.22 388.00Z" fill="#ff0000"/><path d="M259.24 398.00L261.44 401.20L259.24 404.40L257.04 401.20Z" fill="#ff0000"/><path d="M267.07 391.80L269.27 395.00L267.07 398.20L264.87 395.00Z" fill="#ff0000"/><path d="M274.90 382.80L277.10 386.00L274.90 389.20L272.70 386.00Z" fill="#ff0000"/><path d="M282.73 395.70L284.93 398.90L282.73 402.10L280.53 398.90Z" fill="#ff0000"/><path d="M290.56 387.90L292.76 391.10L290.56 394.30L288.36 391.10Z" fill="#ff0000"/><path d="M298.38 387.90L300.58 391.10L298.38 394.30L296.18 391.10Z" fill="#ff0000"/><path d="M306.21 388.80L308.41 392.00L306.21 395.20L304.01 392.00Z" fill="#ff0000"/><path d="M314.04 394.10L316.24 397.30L314.04 400.50L311.84 397.30Z" fill="#ff0000"/><path d="M321.87 393.20L324.07 396.40L321.87 399.60L319.67 396.40Z" fill="#ff0000"/><path d="M329.70 390.80L331.90 394.00L329.70 397.20L327.50 394.00Z" fill="#ff0000"/><path d="M337.52 397.80L339.72 401.00L337.52 404.20L335.32 401.00Z" fill="#ff0000"/><path d="M345.35 402.80L347.55 406.00L345.35 409.20L343.15 406.00Z" fill="#ff0000"/><path d="M353.18 408.20L355.38 411.40L353.18 414.60L350.98 411.40Z" fill="#ff0000"/><path d="M361.01 424.50L363.21 427.70L361.01 430.90L358.81 427.70Z" fill="#ff0000"/></g>
<line x1="51.80" y1="397.75" x2="364.92" y2="397.75" stroke="#000" stroke-opacity="0.72" stroke-width="1.25"/>
<g clip-path="url(#cu)"><polyline points="55.71,255.40 63.54,256.70 71.37,259.50 79.20,257.90 87.03,263.40 94.85,258.10 102.68,260.30 110.51,255.90 118.34,250.00 126.17,245.80 133.99,255.00 141.82,250.90 149.65,250.60 157.48,246.30 165.31,245.50 173.13,241.90 180.96,241.70 188.79,238.00 196.62,234.80 204.45,234.00 212.28,228.80 220.10,226.80 227.93,222.20 235.76,217.20 243.59,214.10 251.42,212.50 259.24,206.30 267.07,205.40 274.90,201.20 282.73,195.50 290.56,190.80 298.38,184.60 306.21,179.50 314.04,173.30 321.87,165.30 329.70,157.30 337.52,148.10 345.35,138.00 353.18,124.50 361.01,109.10" fill="none" stroke="#b5641e" stroke-width="1.2" stroke-dasharray="2.5,2"/><path d="M55.71 251.99V258.81M54.31 251.99H57.11M54.31 258.81H57.11M63.54 253.34V260.06M62.14 253.34H64.94M62.14 260.06H64.94M71.37 256.18V262.82M69.97 256.18H72.77M69.97 262.82H72.77M79.20 254.63V261.17M77.80 254.63H80.60M77.80 261.17H80.60M87.03 260.18V266.62M85.63 260.18H88.43M85.63 266.62H88.43M94.85 254.93V261.27M93.45 254.93H96.25M93.45 261.27H96.25M102.68 257.18V263.42M101.28 257.18H104.08M101.28 263.42H104.08M110.51 252.83V258.97M109.11 252.83H111.91M109.11 258.97H111.91M118.34 246.98V253.02M116.94 246.98H119.74M116.94 253.02H119.74M126.17 242.83V248.77M124.77 242.83H127.57M124.77 248.77H127.57M133.99 252.07V257.93M132.59 252.07H135.39M132.59 257.93H135.39M141.82 248.02V253.78M140.42 248.02H143.22M140.42 253.78H143.22M149.65 247.77V253.43M148.25 247.77H151.05M148.25 253.43H151.05M157.48 243.52V249.08M156.08 243.52H158.88M156.08 249.08H158.88M165.31 242.77V248.23M163.91 242.77H166.71M163.91 248.23H166.71M173.13 239.26V244.54M171.73 239.26H174.53M171.73 244.54H174.53M180.96 239.15V244.25M179.56 239.15H182.36M179.56 244.25H182.36M188.79 235.55V240.45M187.39 235.55H190.19M187.39 240.45H190.19M196.62 232.44V237.16M195.22 232.44H198.02M195.22 237.16H198.02M204.45 231.73V236.27M203.05 231.73H205.85M203.05 236.27H205.85M212.28 226.62V230.98M210.88 226.62H213.68M210.88 230.98H213.68M220.10 224.71V228.89M218.70 224.71H221.50M218.70 228.89H221.50M227.93 220.20V224.20M226.53 220.20H229.33M226.53 224.20H229.33M235.76 215.30V219.10M234.36 215.30H237.16M234.36 219.10H237.16M243.59 212.29V215.91M242.19 212.29H244.99M242.19 215.91H244.99M251.42 210.78V214.22M250.02 210.78H252.82M250.02 214.22H252.82M259.24 204.67V207.93M257.84 204.67H260.64M257.84 207.93H260.64M267.07 203.86V206.94M265.67 203.86H268.47M265.67 206.94H268.47M274.90 199.72V202.68M273.50 199.72H276.30M273.50 202.68H276.30M282.73 194.08V196.92M281.33 194.08H284.13M281.33 196.92H284.13M290.56 189.43V192.17M289.16 189.43H291.96M289.16 192.17H291.96M298.38 183.29V185.91M296.98 183.29H299.78M296.98 185.91H299.78M306.21 178.25V180.75M304.81 178.25H307.61M304.81 180.75H307.61M314.04 172.11V174.49M312.64 172.11H315.44M312.64 174.49H315.44M321.87 164.16V166.44M320.47 164.16H323.27M320.47 166.44H323.27M329.70 156.22V158.38M328.30 156.22H331.10M328.30 158.38H331.10M337.52 147.08V149.12M336.12 147.08H338.92M336.12 149.12H338.92M345.35 137.03V138.97M343.95 137.03H346.75M343.95 138.97H346.75M353.18 123.59V125.41M351.78 123.59H354.58M351.78 125.41H354.58M361.01 108.25V109.95M359.61 108.25H362.41M359.61 109.95H362.41" fill="none" stroke="#b5641e" stroke-width="1.2" stroke-dasharray="2.5,2"/><circle cx="55.71" cy="255.40" r="2.45" fill="none" stroke="#b5641e" stroke-width="1.1"/><circle cx="63.54" cy="256.70" r="2.45" fill="none" stroke="#b5641e" stroke-width="1.1"/><circle cx="71.37" cy="259.50" r="2.45" fill="none" stroke="#b5641e" stroke-width="1.1"/><circle cx="79.20" cy="257.90" r="2.45" fill="none" stroke="#b5641e" stroke-width="1.1"/><circle cx="87.03" cy="263.40" r="2.45" fill="none" stroke="#b5641e" stroke-width="1.1"/><circle cx="94.85" cy="258.10" r="2.45" fill="none" stroke="#b5641e" stroke-width="1.1"/><circle cx="102.68" cy="260.30" r="2.45" fill="none" stroke="#b5641e" stroke-width="1.1"/><circle cx="110.51" cy="255.90" r="2.45" fill="none" stroke="#b5641e" stroke-width="1.1"/><circle cx="118.34" cy="250.00" r="2.45" fill="none" stroke="#b5641e" stroke-width="1.1"/><circle cx="126.17" cy="245.80" r="2.45" fill="none" stroke="#b5641e" stroke-width="1.1"/><circle cx="133.99" cy="255.00" r="2.45" fill="none" stroke="#b5641e" stroke-width="1.1"/><circle cx="141.82" cy="250.90" r="2.45" fill="none" stroke="#b5641e" stroke-width="1.1"/><circle cx="149.65" cy="250.60" r="2.45" fill="none" stroke="#b5641e" stroke-width="1.1"/><circle cx="157.48" cy="246.30" r="2.45" fill="none" stroke="#b5641e" stroke-width="1.1"/><circle cx="165.31" cy="245.50" r="2.45" fill="none" stroke="#b5641e" stroke-width="1.1"/><circle cx="173.13" cy="241.90" r="2.45" fill="none" stroke="#b5641e" stroke-width="1.1"/><circle cx="180.96" cy="241.70" r="2.45" fill="none" stroke="#b5641e" stroke-width="1.1"/><circle cx="188.79" cy="238.00" r="2.45" fill="none" stroke="#b5641e" stroke-width="1.1"/><circle cx="196.62" cy="234.80" r="2.45" fill="none" stroke="#b5641e" stroke-width="1.1"/><circle cx="204.45" cy="234.00" r="2.45" fill="none" stroke="#b5641e" stroke-width="1.1"/><circle cx="212.28" cy="228.80" r="2.45" fill="none" stroke="#b5641e" stroke-width="1.1"/><circle cx="220.10" cy="226.80" r="2.45" fill="none" stroke="#b5641e" stroke-width="1.1"/><circle cx="227.93" cy="222.20" r="2.45" fill="none" stroke="#b5641e" stroke-width="1.1"/><circle cx="235.76" cy="217.20" r="2.45" fill="none" stroke="#b5641e" stroke-width="1.1"/><circle cx="243.59" cy="214.10" r="2.45" fill="none" stroke="#b5641e" stroke-width="1.1"/><circle cx="251.42" cy="212.50" r="2.45" fill="none" stroke="#b5641e" stroke-width="1.1"/><circle cx="259.24" cy="206.30" r="2.45" fill="none" stroke="#b5641e" stroke-width="1.1"/><circle cx="267.07" cy="205.40" r="2.45" fill="none" stroke="#b5641e" stroke-width="1.1"/><circle cx="274.90" cy="201.20" r="2.45" fill="none" stroke="#b5641e" stroke-width="1.1"/><circle cx="282.73" cy="195.50" r="2.45" fill="none" stroke="#b5641e" stroke-width="1.1"/><circle cx="290.56" cy="190.80" r="2.45" fill="none" stroke="#b5641e" stroke-width="1.1"/><circle cx="298.38" cy="184.60" r="2.45" fill="none" stroke="#b5641e" stroke-width="1.1"/><circle cx="306.21" cy="179.50" r="2.45" fill="none" stroke="#b5641e" stroke-width="1.1"/><circle cx="314.04" cy="173.30" r="2.45" fill="none" stroke="#b5641e" stroke-width="1.1"/><circle cx="321.87" cy="165.30" r="2.45" fill="none" stroke="#b5641e" stroke-width="1.1"/><circle cx="329.70" cy="157.30" r="2.45" fill="none" stroke="#b5641e" stroke-width="1.1"/><circle cx="337.52" cy="148.10" r="2.45" fill="none" stroke="#b5641e" stroke-width="1.1"/><circle cx="345.35" cy="138.00" r="2.45" fill="none" stroke="#b5641e" stroke-width="1.1"/><circle cx="353.18" cy="124.50" r="2.45" fill="none" stroke="#b5641e" stroke-width="1.1"/><circle cx="361.01" cy="109.10" r="2.45" fill="none" stroke="#b5641e" stroke-width="1.1"/></g>
<g clip-path="url(#cu)"><polyline points="55.71,259.67 63.54,258.34 71.37,261.99 79.20,260.90 87.03,258.79 94.85,256.43 102.68,258.63 110.51,259.04 118.34,259.01 126.17,253.21 133.99,255.72 141.82,253.25 149.65,251.59 157.48,248.76 165.31,249.70 173.13,246.10 180.96,239.75 188.79,239.26 196.62,240.64 204.45,233.11 212.28,230.71 220.10,230.38 227.93,223.43 235.76,219.52 243.59,218.02 251.42,216.70 259.24,208.89 267.07,205.91 274.90,201.88 282.73,196.56 290.56,193.39 298.38,186.92 306.21,181.21 314.04,174.84 321.87,167.72 329.70,160.64 337.52,151.44 345.35,142.85 353.18,128.94 361.01,116.44" fill="none" stroke="#3a9a1a" stroke-width="1.2" stroke-dasharray="2.5,2"/><path d="M55.71 256.94V262.40M54.31 256.94H57.11M54.31 262.40H57.11M63.54 255.66V261.02M62.14 255.66H64.94M62.14 261.02H64.94M71.37 259.36V264.62M69.97 259.36H72.77M69.97 264.62H72.77M79.20 258.32V263.49M77.80 258.32H80.60M77.80 263.49H80.60M87.03 256.26V261.33M85.63 256.26H88.43M85.63 261.33H88.43M94.85 253.94V258.91M93.45 253.94H96.25M93.45 258.91H96.25M102.68 256.19V261.07M101.28 256.19H104.08M101.28 261.07H104.08M110.51 256.65V261.43M109.11 256.65H111.91M109.11 261.43H111.91M118.34 256.67V261.35M116.94 256.67H119.74M116.94 261.35H119.74M126.17 250.91V255.50M124.77 250.91H127.57M124.77 255.50H127.57M133.99 253.47V257.96M132.59 253.47H135.39M132.59 257.96H135.39M141.82 251.06V255.45M140.42 251.06H143.22M140.42 255.45H143.22M149.65 249.44V253.74M148.25 249.44H151.05M148.25 253.74H151.05M157.48 246.66V250.85M156.08 246.66H158.88M156.08 250.85H158.88M165.31 247.65V251.75M163.91 247.65H166.71M163.91 251.75H166.71M173.13 244.12V248.08M171.73 244.12H174.53M171.73 248.08H174.53M180.96 237.84V241.67M179.56 237.84H182.36M179.56 241.67H182.36M188.79 237.41V241.11M187.39 237.41H190.19M187.39 241.11H190.19M196.62 238.85V242.42M195.22 238.85H198.02M195.22 242.42H198.02M204.45 231.39V234.83M203.05 231.39H205.85M203.05 234.83H205.85M212.28 229.06V232.37M210.88 229.06H213.68M210.88 232.37H213.68M220.10 228.80V231.97M218.70 228.80H221.50M218.70 231.97H221.50M227.93 221.91V224.95M226.53 221.91H229.33M226.53 224.95H229.33M235.76 218.06V220.98M234.36 218.06H237.16M234.36 220.98H237.16M243.59 216.63V219.42M242.19 216.63H244.99M242.19 219.42H244.99M251.42 215.37V218.02M250.02 215.37H252.82M250.02 218.02H252.82M259.24 207.63V210.15M257.84 207.63H260.64M257.84 210.15H260.64M267.07 204.72V207.11M265.67 204.72H268.47M265.67 207.11H268.47M274.90 200.72V203.05M273.50 200.72H276.30M273.50 203.05H276.30M282.73 195.42V197.70M281.33 195.42H284.13M281.33 197.70H284.13M290.56 192.28V194.50M289.16 192.28H291.96M289.16 194.50H291.96M298.38 185.84V188.00M296.98 185.84H299.78M296.98 188.00H299.78M306.21 180.15V182.26M304.81 180.15H307.61M304.81 182.26H307.61M314.04 173.81V175.86M312.64 173.81H315.44M312.64 175.86H315.44M321.87 166.73V168.72M320.47 166.73H323.27M320.47 168.72H323.27M329.70 159.68V161.61M328.30 159.68H331.10M328.30 161.61H331.10M337.52 150.51V152.38M336.12 150.51H338.92M336.12 152.38H338.92M345.35 141.94V143.76M343.95 141.94H346.75M343.95 143.76H346.75M353.18 128.06V129.82M351.78 128.06H354.58M351.78 129.82H354.58M361.01 115.58V117.29M359.61 115.58H362.41M359.61 117.29H362.41" fill="none" stroke="#3a9a1a" stroke-width="1.2" stroke-dasharray="2.5,2"/><rect x="52.91" y="256.87" width="5.60" height="5.60" fill="none" stroke="#3a9a1a" stroke-width="1.1"/><rect x="60.74" y="255.54" width="5.60" height="5.60" fill="none" stroke="#3a9a1a" stroke-width="1.1"/><rect x="68.57" y="259.19" width="5.60" height="5.60" fill="none" stroke="#3a9a1a" stroke-width="1.1"/><rect x="76.40" y="258.10" width="5.60" height="5.60" fill="none" stroke="#3a9a1a" stroke-width="1.1"/><rect x="84.23" y="255.99" width="5.60" height="5.60" fill="none" stroke="#3a9a1a" stroke-width="1.1"/><rect x="92.05" y="253.63" width="5.60" height="5.60" fill="none" stroke="#3a9a1a" stroke-width="1.1"/><rect x="99.88" y="255.83" width="5.60" height="5.60" fill="none" stroke="#3a9a1a" stroke-width="1.1"/><rect x="107.71" y="256.24" width="5.60" height="5.60" fill="none" stroke="#3a9a1a" stroke-width="1.1"/><rect x="115.54" y="256.21" width="5.60" height="5.60" fill="none" stroke="#3a9a1a" stroke-width="1.1"/><rect x="123.37" y="250.41" width="5.60" height="5.60" fill="none" stroke="#3a9a1a" stroke-width="1.1"/><rect x="131.19" y="252.92" width="5.60" height="5.60" fill="none" stroke="#3a9a1a" stroke-width="1.1"/><rect x="139.02" y="250.45" width="5.60" height="5.60" fill="none" stroke="#3a9a1a" stroke-width="1.1"/><rect x="146.85" y="248.79" width="5.60" height="5.60" fill="none" stroke="#3a9a1a" stroke-width="1.1"/><rect x="154.68" y="245.96" width="5.60" height="5.60" fill="none" stroke="#3a9a1a" stroke-width="1.1"/><rect x="162.51" y="246.90" width="5.60" height="5.60" fill="none" stroke="#3a9a1a" stroke-width="1.1"/><rect x="170.33" y="243.30" width="5.60" height="5.60" fill="none" stroke="#3a9a1a" stroke-width="1.1"/><rect x="178.16" y="236.95" width="5.60" height="5.60" fill="none" stroke="#3a9a1a" stroke-width="1.1"/><rect x="185.99" y="236.46" width="5.60" height="5.60" fill="none" stroke="#3a9a1a" stroke-width="1.1"/><rect x="193.82" y="237.84" width="5.60" height="5.60" fill="none" stroke="#3a9a1a" stroke-width="1.1"/><rect x="201.65" y="230.31" width="5.60" height="5.60" fill="none" stroke="#3a9a1a" stroke-width="1.1"/><rect x="209.48" y="227.91" width="5.60" height="5.60" fill="none" stroke="#3a9a1a" stroke-width="1.1"/><rect x="217.30" y="227.58" width="5.60" height="5.60" fill="none" stroke="#3a9a1a" stroke-width="1.1"/><rect x="225.13" y="220.63" width="5.60" height="5.60" fill="none" stroke="#3a9a1a" stroke-width="1.1"/><rect x="232.96" y="216.72" width="5.60" height="5.60" fill="none" stroke="#3a9a1a" stroke-width="1.1"/><rect x="240.79" y="215.22" width="5.60" height="5.60" fill="none" stroke="#3a9a1a" stroke-width="1.1"/><rect x="248.62" y="213.90" width="5.60" height="5.60" fill="none" stroke="#3a9a1a" stroke-width="1.1"/><rect x="256.44" y="206.09" width="5.60" height="5.60" fill="none" stroke="#3a9a1a" stroke-width="1.1"/><rect x="264.27" y="203.11" width="5.60" height="5.60" fill="none" stroke="#3a9a1a" stroke-width="1.1"/><rect x="272.10" y="199.08" width="5.60" height="5.60" fill="none" stroke="#3a9a1a" stroke-width="1.1"/><rect x="279.93" y="193.76" width="5.60" height="5.60" fill="none" stroke="#3a9a1a" stroke-width="1.1"/><rect x="287.76" y="190.59" width="5.60" height="5.60" fill="none" stroke="#3a9a1a" stroke-width="1.1"/><rect x="295.58" y="184.12" width="5.60" height="5.60" fill="none" stroke="#3a9a1a" stroke-width="1.1"/><rect x="303.41" y="178.41" width="5.60" height="5.60" fill="none" stroke="#3a9a1a" stroke-width="1.1"/><rect x="311.24" y="172.04" width="5.60" height="5.60" fill="none" stroke="#3a9a1a" stroke-width="1.1"/><rect x="319.07" y="164.92" width="5.60" height="5.60" fill="none" stroke="#3a9a1a" stroke-width="1.1"/><rect x="326.90" y="157.84" width="5.60" height="5.60" fill="none" stroke="#3a9a1a" stroke-width="1.1"/><rect x="334.72" y="148.64" width="5.60" height="5.60" fill="none" stroke="#3a9a1a" stroke-width="1.1"/><rect x="342.55" y="140.05" width="5.60" height="5.60" fill="none" stroke="#3a9a1a" stroke-width="1.1"/><rect x="350.38" y="126.14" width="5.60" height="5.60" fill="none" stroke="#3a9a1a" stroke-width="1.1"/><rect x="358.21" y="113.64" width="5.60" height="5.60" fill="none" stroke="#3a9a1a" stroke-width="1.1"/></g>
<g clip-path="url(#cu)"><polyline points="55.71,261.85 63.54,259.36 71.37,255.23 79.20,251.76 87.03,248.72 94.85,250.90 102.68,244.70 110.51,249.48 118.34,240.38 126.17,245.15 133.99,236.60 141.82,237.56 149.65,239.92 157.48,234.97 165.31,230.04 173.13,226.95 180.96,225.42 188.79,225.99 196.62,223.33 204.45,220.11 212.28,218.39 220.10,211.07 227.93,211.01 235.76,211.06 243.59,206.63 251.42,201.82 259.24,195.89 267.07,194.07 274.90,190.01 282.73,186.69 290.56,179.84 298.38,177.13 306.21,173.87 314.04,166.61 321.87,159.50 329.70,153.44 337.52,146.12 345.35,138.96 353.18,126.27 361.01,115.24" fill="none" stroke="#0000ff" stroke-width="1.2"/><path d="M55.71 258.44V265.26M54.31 258.44H57.11M54.31 265.26H57.11M63.54 256.01V262.71M62.14 256.01H64.94M62.14 262.71H64.94M71.37 251.94V258.52M69.97 251.94H72.77M69.97 258.52H72.77M79.20 248.53V254.99M77.80 248.53H80.60M77.80 254.99H80.60M87.03 245.56V251.89M85.63 245.56H88.43M85.63 251.89H88.43M94.85 247.79V254.01M93.45 247.79H96.25M93.45 254.01H96.25M102.68 241.66V247.75M101.28 241.66H104.08M101.28 247.75H104.08M110.51 246.50V252.47M109.11 246.50H111.91M109.11 252.47H111.91M118.34 237.45V243.30M116.94 237.45H119.74M116.94 243.30H119.74M126.17 242.29V248.02M124.77 242.29H127.57M124.77 248.02H127.57M133.99 233.80V239.41M132.59 233.80H135.39M132.59 239.41H135.39M141.82 234.81V240.30M140.42 234.81H143.22M140.42 240.30H143.22M149.65 237.24V242.60M148.25 237.24H151.05M148.25 242.60H151.05M157.48 232.35V237.59M156.08 232.35H158.88M156.08 237.59H158.88M165.31 227.48V232.60M163.91 227.48H166.71M163.91 232.60H166.71M173.13 224.47V229.43M171.73 224.47H174.53M171.73 229.43H174.53M180.96 223.02V227.82M179.56 223.02H182.36M179.56 227.82H182.36M188.79 223.66V228.31M187.39 223.66H190.19M187.39 228.31H190.19M196.62 221.09V225.58M195.22 221.09H198.02M195.22 225.58H198.02M204.45 217.94V222.28M203.05 217.94H205.85M203.05 222.28H205.85M212.28 216.30V220.48M210.88 216.30H213.68M210.88 220.48H213.68M220.10 209.06V213.07M218.70 209.06H221.50M218.70 213.07H221.50M227.93 209.08V212.94M226.53 209.08H229.33M226.53 212.94H229.33M235.76 209.21V212.91M234.36 209.21H237.16M234.36 212.91H237.16M243.59 204.85V208.40M242.19 204.85H244.99M242.19 208.40H244.99M251.42 200.12V203.51M250.02 200.12H252.82M250.02 203.51H252.82M259.24 194.28V197.51M257.84 194.28H260.64M257.84 197.51H260.64M267.07 192.53V195.60M265.67 192.53H268.47M265.67 195.60H268.47M274.90 188.51V191.50M273.50 188.51H276.30M273.50 191.50H276.30M282.73 185.24V188.15M281.33 185.24H284.13M281.33 188.15H284.13M290.56 178.44V181.25M289.16 178.44H291.96M289.16 181.25H291.96M298.38 175.76V178.49M296.98 175.76H299.78M296.98 178.49H299.78M306.21 172.55V175.19M304.81 172.55H307.61M304.81 175.19H307.61M314.04 165.33V167.89M312.64 165.33H315.44M312.64 167.89H315.44M321.87 158.26V160.74M320.47 158.26H323.27M320.47 160.74H323.27M329.70 152.25V154.64M328.30 152.25H331.10M328.30 154.64H331.10M337.52 144.97V147.27M336.12 144.97H338.92M336.12 147.27H338.92M345.35 137.85V140.06M343.95 137.85H346.75M343.95 140.06H346.75M353.18 125.21V127.34M351.78 125.21H354.58M351.78 127.34H354.58M361.01 114.22V116.27M359.61 114.22H362.41M359.61 116.27H362.41" fill="none" stroke="#0000ff" stroke-width="1.2"/><path d="M55.71 258.85L58.46 264.15L52.96 264.15Z" fill="#0000ff"/><path d="M63.54 256.36L66.29 261.66L60.79 261.66Z" fill="#0000ff"/><path d="M71.37 252.23L74.12 257.53L68.62 257.53Z" fill="#0000ff"/><path d="M79.20 248.76L81.95 254.06L76.45 254.06Z" fill="#0000ff"/><path d="M87.03 245.72L89.78 251.02L84.28 251.02Z" fill="#0000ff"/><path d="M94.85 247.90L97.60 253.20L92.10 253.20Z" fill="#0000ff"/><path d="M102.68 241.70L105.43 247.00L99.93 247.00Z" fill="#0000ff"/><path d="M110.51 246.48L113.26 251.78L107.76 251.78Z" fill="#0000ff"/><path d="M118.34 237.38L121.09 242.68L115.59 242.68Z" fill="#0000ff"/><path d="M126.17 242.15L128.92 247.45L123.42 247.45Z" fill="#0000ff"/><path d="M133.99 233.60L136.74 238.90L131.24 238.90Z" fill="#0000ff"/><path d="M141.82 234.56L144.57 239.86L139.07 239.86Z" fill="#0000ff"/><path d="M149.65 236.92L152.40 242.22L146.90 242.22Z" fill="#0000ff"/><path d="M157.48 231.97L160.23 237.27L154.73 237.27Z" fill="#0000ff"/><path d="M165.31 227.04L168.06 232.34L162.56 232.34Z" fill="#0000ff"/><path d="M173.13 223.95L175.88 229.25L170.38 229.25Z" fill="#0000ff"/><path d="M180.96 222.42L183.71 227.72L178.21 227.72Z" fill="#0000ff"/><path d="M188.79 222.99L191.54 228.29L186.04 228.29Z" fill="#0000ff"/><path d="M196.62 220.33L199.37 225.63L193.87 225.63Z" fill="#0000ff"/><path d="M204.45 217.11L207.20 222.41L201.70 222.41Z" fill="#0000ff"/><path d="M212.28 215.39L215.03 220.69L209.53 220.69Z" fill="#0000ff"/><path d="M220.10 208.07L222.85 213.37L217.35 213.37Z" fill="#0000ff"/><path d="M227.93 208.01L230.68 213.31L225.18 213.31Z" fill="#0000ff"/><path d="M235.76 208.06L238.51 213.36L233.01 213.36Z" fill="#0000ff"/><path d="M243.59 203.63L246.34 208.93L240.84 208.93Z" fill="#0000ff"/><path d="M251.42 198.82L254.17 204.12L248.67 204.12Z" fill="#0000ff"/><path d="M259.24 192.89L261.99 198.19L256.49 198.19Z" fill="#0000ff"/><path d="M267.07 191.07L269.82 196.37L264.32 196.37Z" fill="#0000ff"/><path d="M274.90 187.01L277.65 192.31L272.15 192.31Z" fill="#0000ff"/><path d="M282.73 183.69L285.48 188.99L279.98 188.99Z" fill="#0000ff"/><path d="M290.56 176.84L293.31 182.14L287.81 182.14Z" fill="#0000ff"/><path d="M298.38 174.13L301.13 179.43L295.63 179.43Z" fill="#0000ff"/><path d="M306.21 170.87L308.96 176.17L303.46 176.17Z" fill="#0000ff"/><path d="M314.04 163.61L316.79 168.91L311.29 168.91Z" fill="#0000ff"/><path d="M321.87 156.50L324.62 161.80L319.12 161.80Z" fill="#0000ff"/><path d="M329.70 150.44L332.45 155.74L326.95 155.74Z" fill="#0000ff"/><path d="M337.52 143.12L340.27 148.42L334.77 148.42Z" fill="#0000ff"/><path d="M345.35 135.96L348.10 141.26L342.60 141.26Z" fill="#0000ff"/><path d="M353.18 123.27L355.93 128.57L350.43 128.57Z" fill="#0000ff"/><path d="M361.01 112.24L363.76 117.54L358.26 117.54Z" fill="#0000ff"/></g>
<g clip-path="url(#cu)"><polyline points="55.71,269.46 63.54,274.52 71.37,266.91 79.20,265.31 87.03,271.34 94.85,266.04 102.68,267.71 110.51,264.36 118.34,260.61 126.17,263.62 133.99,255.92 141.82,264.45 149.65,252.68 157.48,253.98 165.31,254.51 173.13,255.18 180.96,252.55 188.79,247.01 196.62,241.15 204.45,239.02 212.28,238.32 220.10,235.54 227.93,234.66 235.76,229.40 243.59,223.38 251.42,220.18 259.24,217.70 267.07,213.73 274.90,205.50 282.73,200.93 290.56,194.96 298.38,188.46 306.21,182.71 314.04,178.04 321.87,168.54 329.70,161.70 337.52,150.92 345.35,139.43 353.18,125.42 361.01,110.74" fill="none" stroke="#1a9cc8" stroke-width="1.2" stroke-dasharray="4,1.5,1,1.5"/><path d="M55.71 265.71V273.22M54.31 265.71H57.11M54.31 273.22H57.11M63.54 270.83V278.20M62.14 270.83H64.94M62.14 278.20H64.94M71.37 263.30V270.51M69.97 263.30H72.77M69.97 270.51H72.77M79.20 261.77V268.84M77.80 261.77H80.60M77.80 268.84H80.60M87.03 267.87V274.80M85.63 267.87H88.43M85.63 274.80H88.43M94.85 262.65V269.42M93.45 262.65H96.25M93.45 269.42H96.25M102.68 264.39V271.02M101.28 264.39H104.08M101.28 271.02H104.08M110.51 261.12V267.61M109.11 261.12H111.91M109.11 267.61H111.91M118.34 257.45V263.78M116.94 257.45H119.74M116.94 263.78H119.74M126.17 260.52V266.71M124.77 260.52H127.57M124.77 266.71H127.57M133.99 252.90V258.94M132.59 252.90H135.39M132.59 258.94H135.39M141.82 261.50V267.40M140.42 261.50H143.22M140.42 267.40H143.22M149.65 249.81V255.56M148.25 249.81H151.05M148.25 255.56H151.05M157.48 251.18V256.78M156.08 251.18H158.88M156.08 256.78H158.88M165.31 251.78V257.24M163.91 251.78H166.71M163.91 257.24H166.71M173.13 252.54V257.81M171.73 252.54H174.53M171.73 257.81H174.53M180.96 250.01V255.10M179.56 250.01H182.36M179.56 255.10H182.36M188.79 244.56V249.46M187.39 244.56H190.19M187.39 249.46H190.19M196.62 238.79V243.51M195.22 238.79H198.02M195.22 243.51H198.02M204.45 236.75V241.29M203.05 236.75H205.85M203.05 241.29H205.85M212.28 236.14V240.50M210.88 236.14H213.68M210.88 240.50H213.68M220.10 233.45V237.62M218.70 233.45H221.50M218.70 237.62H221.50M227.93 232.66V236.65M226.53 232.66H229.33M226.53 236.65H229.33M235.76 227.50V231.30M234.36 227.50H237.16M234.36 231.30H237.16M243.59 221.57V225.19M242.19 221.57H244.99M242.19 225.19H244.99M251.42 218.46V221.90M250.02 218.46H252.82M250.02 221.90H252.82M259.24 216.07V219.33M257.84 216.07H260.64M257.84 219.33H260.64M267.07 212.19V215.26M265.67 212.19H268.47M265.67 215.26H268.47M274.90 204.01V206.99M273.50 204.01H276.30M273.50 206.99H276.30M282.73 199.48V202.38M281.33 199.48H284.13M281.33 202.38H284.13M290.56 193.56V196.37M289.16 193.56H291.96M289.16 196.37H291.96M298.38 187.09V189.82M296.98 187.09H299.78M296.98 189.82H299.78M306.21 181.39V184.03M304.81 181.39H307.61M304.81 184.03H307.61M314.04 176.76V179.32M312.64 176.76H315.44M312.64 179.32H315.44M321.87 167.31V169.78M320.47 167.31H323.27M320.47 169.78H323.27M329.70 160.51V162.90M328.30 160.51H331.10M328.30 162.90H331.10M337.52 149.76V152.07M336.12 149.76H338.92M336.12 152.07H338.92M345.35 138.32V140.54M343.95 138.32H346.75M343.95 140.54H346.75M353.18 124.35V126.49M351.78 124.35H354.58M351.78 126.49H354.58M361.01 109.71V111.76M359.61 109.71H362.41M359.61 111.76H362.41" fill="none" stroke="#1a9cc8" stroke-width="1.2" stroke-dasharray="4,1.5,1,1.5"/><path d="M55.71 272.46L58.46 267.16L52.96 267.16Z" fill="#1a9cc8"/><path d="M63.54 277.52L66.29 272.22L60.79 272.22Z" fill="#1a9cc8"/><path d="M71.37 269.91L74.12 264.61L68.62 264.61Z" fill="#1a9cc8"/><path d="M79.20 268.31L81.95 263.01L76.45 263.01Z" fill="#1a9cc8"/><path d="M87.03 274.34L89.78 269.04L84.28 269.04Z" fill="#1a9cc8"/><path d="M94.85 269.04L97.60 263.74L92.10 263.74Z" fill="#1a9cc8"/><path d="M102.68 270.71L105.43 265.41L99.93 265.41Z" fill="#1a9cc8"/><path d="M110.51 267.36L113.26 262.06L107.76 262.06Z" fill="#1a9cc8"/><path d="M118.34 263.61L121.09 258.31L115.59 258.31Z" fill="#1a9cc8"/><path d="M126.17 266.62L128.92 261.32L123.42 261.32Z" fill="#1a9cc8"/><path d="M133.99 258.92L136.74 253.62L131.24 253.62Z" fill="#1a9cc8"/><path d="M141.82 267.45L144.57 262.15L139.07 262.15Z" fill="#1a9cc8"/><path d="M149.65 255.68L152.40 250.38L146.90 250.38Z" fill="#1a9cc8"/><path d="M157.48 256.98L160.23 251.68L154.73 251.68Z" fill="#1a9cc8"/><path d="M165.31 257.51L168.06 252.21L162.56 252.21Z" fill="#1a9cc8"/><path d="M173.13 258.18L175.88 252.88L170.38 252.88Z" fill="#1a9cc8"/><path d="M180.96 255.55L183.71 250.25L178.21 250.25Z" fill="#1a9cc8"/><path d="M188.79 250.01L191.54 244.71L186.04 244.71Z" fill="#1a9cc8"/><path d="M196.62 244.15L199.37 238.85L193.87 238.85Z" fill="#1a9cc8"/><path d="M204.45 242.02L207.20 236.72L201.70 236.72Z" fill="#1a9cc8"/><path d="M212.28 241.32L215.03 236.02L209.53 236.02Z" fill="#1a9cc8"/><path d="M220.10 238.54L222.85 233.24L217.35 233.24Z" fill="#1a9cc8"/><path d="M227.93 237.66L230.68 232.36L225.18 232.36Z" fill="#1a9cc8"/><path d="M235.76 232.40L238.51 227.10L233.01 227.10Z" fill="#1a9cc8"/><path d="M243.59 226.38L246.34 221.08L240.84 221.08Z" fill="#1a9cc8"/><path d="M251.42 223.18L254.17 217.88L248.67 217.88Z" fill="#1a9cc8"/><path d="M259.24 220.70L261.99 215.40L256.49 215.40Z" fill="#1a9cc8"/><path d="M267.07 216.73L269.82 211.43L264.32 211.43Z" fill="#1a9cc8"/><path d="M274.90 208.50L277.65 203.20L272.15 203.20Z" fill="#1a9cc8"/><path d="M282.73 203.93L285.48 198.63L279.98 198.63Z" fill="#1a9cc8"/><path d="M290.56 197.96L293.31 192.66L287.81 192.66Z" fill="#1a9cc8"/><path d="M298.38 191.46L301.13 186.16L295.63 186.16Z" fill="#1a9cc8"/><path d="M306.21 185.71L308.96 180.41L303.46 180.41Z" fill="#1a9cc8"/><path d="M314.04 181.04L316.79 175.74L311.29 175.74Z" fill="#1a9cc8"/><path d="M321.87 171.54L324.62 166.24L319.12 166.24Z" fill="#1a9cc8"/><path d="M329.70 164.70L332.45 159.40L326.95 159.40Z" fill="#1a9cc8"/><path d="M337.52 153.92L340.27 148.62L334.77 148.62Z" fill="#1a9cc8"/><path d="M345.35 142.43L348.10 137.13L342.60 137.13Z" fill="#1a9cc8"/><path d="M353.18 128.42L355.93 123.12L350.43 123.12Z" fill="#1a9cc8"/><path d="M361.01 113.74L363.76 108.44L358.26 108.44Z" fill="#1a9cc8"/></g>
<g clip-path="url(#cu)"><polyline points="55.71,266.53 63.54,255.57 71.37,258.37 79.20,259.50 87.03,256.20 94.85,260.18 102.68,249.11 110.51,259.07 118.34,252.35 126.17,248.39 133.99,250.97 141.82,250.93 149.65,248.31 157.48,248.52 165.31,245.43 173.13,240.77 180.96,243.24 188.79,232.33 196.62,237.97 204.45,230.18 212.28,227.23 220.10,229.39 227.93,225.37 235.76,220.61 243.59,214.58 251.42,209.26 259.24,207.56 267.07,204.55 274.90,197.28 282.73,195.98 290.56,188.62 298.38,182.42 306.21,177.62 314.04,173.23 321.87,164.92 329.70,156.11 337.52,149.29 345.35,140.90 353.18,129.24 361.01,119.41" fill="none" stroke="#ff0000" stroke-width="1.2" stroke-dasharray="1,1.5"/><path d="M55.71 262.09V270.96M54.31 262.09H57.11M54.31 270.96H57.11M63.54 251.23V259.91M62.14 251.23H64.94M62.14 259.91H64.94M71.37 254.13V262.62M69.97 254.13H72.77M69.97 262.62H72.77M79.20 255.36V263.65M77.80 255.36H80.60M77.80 263.65H80.60M87.03 252.15V260.25M85.63 252.15H88.43M85.63 260.25H88.43M94.85 256.23V264.13M93.45 256.23H96.25M93.45 264.13H96.25M102.68 245.25V252.96M101.28 245.25H104.08M101.28 252.96H104.08M110.51 255.32V262.83M109.11 255.32H111.91M109.11 262.83H111.91M118.34 248.70V256.01M116.94 248.70H119.74M116.94 256.01H119.74M126.17 244.83V251.95M124.77 244.83H127.57M124.77 251.95H127.57M133.99 247.51V254.43M132.59 247.51H135.39M132.59 254.43H135.39M141.82 247.57V254.30M140.42 247.57H143.22M140.42 254.30H143.22M149.65 245.05V251.58M148.25 245.05H151.05M148.25 251.58H151.05M157.48 245.35V251.69M156.08 245.35H158.88M156.08 251.69H158.88M165.31 242.36V248.50M163.91 242.36H166.71M163.91 248.50H166.71M173.13 237.81V243.74M171.73 237.81H174.53M171.73 243.74H174.53M180.96 240.37V246.10M179.56 240.37H182.36M179.56 246.10H182.36M188.79 229.58V235.09M187.39 229.58H190.19M187.39 235.09H190.19M196.62 235.32V240.63M195.22 235.32H198.02M195.22 240.63H198.02M204.45 227.63V232.72M203.05 227.63H205.85M203.05 232.72H205.85M212.28 224.79V229.67M210.88 224.79H213.68M210.88 229.67H213.68M220.10 227.06V231.73M218.70 227.06H221.50M218.70 231.73H221.50M227.93 223.14V227.61M226.53 223.14H229.33M226.53 227.61H229.33M235.76 218.49V222.74M234.36 218.49H237.16M234.36 222.74H237.16M243.59 212.56V216.60M242.19 212.56H244.99M242.19 216.60H244.99M251.42 207.34V211.17M250.02 207.34H252.82M250.02 211.17H252.82M259.24 205.75V209.37M257.84 205.75H260.64M257.84 209.37H260.64M267.07 202.84V206.25M265.67 202.84H268.47M265.67 206.25H268.47M274.90 195.63V198.92M273.50 195.63H276.30M273.50 198.92H276.30M282.73 194.39V197.57M281.33 194.39H284.13M281.33 197.57H284.13M290.56 187.08V190.15M289.16 187.08H291.96M289.16 190.15H291.96M298.38 180.94V183.89M296.98 180.94H299.78M296.98 183.89H299.78M306.21 176.20V179.04M304.81 176.20H307.61M304.81 179.04H307.61M314.04 171.87V174.60M312.64 171.87H315.44M312.64 174.60H315.44M321.87 163.62V166.23M320.47 163.62H323.27M320.47 166.23H323.27M329.70 154.85V157.36M328.30 154.85H331.10M328.30 157.36H331.10M337.52 148.10V150.49M336.12 148.10H338.92M336.12 150.49H338.92M345.35 139.76V142.04M343.95 139.76H346.75M343.95 142.04H346.75M353.18 128.16V130.32M351.78 128.16H354.58M351.78 130.32H354.58M361.01 118.38V120.43M359.61 118.38H362.41M359.61 120.43H362.41" fill="none" stroke="#ff0000" stroke-width="1.2" stroke-dasharray="1,1.5"/><path d="M55.71 263.33L57.91 266.53L55.71 269.73L53.51 266.53Z" fill="#ff0000"/><path d="M63.54 252.37L65.74 255.57L63.54 258.77L61.34 255.57Z" fill="#ff0000"/><path d="M71.37 255.17L73.57 258.37L71.37 261.57L69.17 258.37Z" fill="#ff0000"/><path d="M79.20 256.30L81.40 259.50L79.20 262.70L77.00 259.50Z" fill="#ff0000"/><path d="M87.03 253.00L89.23 256.20L87.03 259.40L84.83 256.20Z" fill="#ff0000"/><path d="M94.85 256.98L97.05 260.18L94.85 263.38L92.65 260.18Z" fill="#ff0000"/><path d="M102.68 245.91L104.88 249.11L102.68 252.31L100.48 249.11Z" fill="#ff0000"/><path d="M110.51 255.87L112.71 259.07L110.51 262.27L108.31 259.07Z" fill="#ff0000"/><path d="M118.34 249.15L120.54 252.35L118.34 255.55L116.14 252.35Z" fill="#ff0000"/><path d="M126.17 245.19L128.37 248.39L126.17 251.59L123.97 248.39Z" fill="#ff0000"/><path d="M133.99 247.77L136.19 250.97L133.99 254.17L131.79 250.97Z" fill="#ff0000"/><path d="M141.82 247.73L144.02 250.93L141.82 254.13L139.62 250.93Z" fill="#ff0000"/><path d="M149.65 245.11L151.85 248.31L149.65 251.51L147.45 248.31Z" fill="#ff0000"/><path d="M157.48 245.32L159.68 248.52L157.48 251.72L155.28 248.52Z" fill="#ff0000"/><path d="M165.31 242.23L167.51 245.43L165.31 248.63L163.11 245.43Z" fill="#ff0000"/><path d="M173.13 237.57L175.33 240.77L173.13 243.97L170.93 240.77Z" fill="#ff0000"/><path d="M180.96 240.04L183.16 243.24L180.96 246.44L178.76 243.24Z" fill="#ff0000"/><path d="M188.79 229.13L190.99 232.33L188.79 235.53L186.59 232.33Z" fill="#ff0000"/><path d="M196.62 234.77L198.82 237.97L196.62 241.17L194.42 237.97Z" fill="#ff0000"/><path d="M204.45 226.98L206.65 230.18L204.45 233.38L202.25 230.18Z" fill="#ff0000"/><path d="M212.28 224.03L214.48 227.23L212.28 230.43L210.08 227.23Z" fill="#ff0000"/><path d="M220.10 226.19L222.30 229.39L220.10 232.59L217.90 229.39Z" fill="#ff0000"/><path d="M227.93 222.17L230.13 225.37L227.93 228.57L225.73 225.37Z" fill="#ff0000"/><path d="M235.76 217.41L237.96 220.61L235.76 223.81L233.56 220.61Z" fill="#ff0000"/><path d="M243.59 211.38L245.79 214.58L243.59 217.78L241.39 214.58Z" fill="#ff0000"/><path d="M251.42 206.06L253.62 209.26L251.42 212.46L249.22 209.26Z" fill="#ff0000"/><path d="M259.24 204.36L261.44 207.56L259.24 210.76L257.04 207.56Z" fill="#ff0000"/><path d="M267.07 201.35L269.27 204.55L267.07 207.75L264.87 204.55Z" fill="#ff0000"/><path d="M274.90 194.08L277.10 197.28L274.90 200.48L272.70 197.28Z" fill="#ff0000"/><path d="M282.73 192.78L284.93 195.98L282.73 199.18L280.53 195.98Z" fill="#ff0000"/><path d="M290.56 185.42L292.76 188.62L290.56 191.82L288.36 188.62Z" fill="#ff0000"/><path d="M298.38 179.22L300.58 182.42L298.38 185.62L296.18 182.42Z" fill="#ff0000"/><path d="M306.21 174.42L308.41 177.62L306.21 180.82L304.01 177.62Z" fill="#ff0000"/><path d="M314.04 170.03L316.24 173.23L314.04 176.43L311.84 173.23Z" fill="#ff0000"/><path d="M321.87 161.72L324.07 164.92L321.87 168.12L319.67 164.92Z" fill="#ff0000"/><path d="M329.70 152.91L331.90 156.11L329.70 159.31L327.50 156.11Z" fill="#ff0000"/><path d="M337.52 146.09L339.72 149.29L337.52 152.49L335.32 149.29Z" fill="#ff0000"/><path d="M345.35 137.70L347.55 140.90L345.35 144.10L343.15 140.90Z" fill="#ff0000"/><path d="M353.18 126.04L355.38 129.24L353.18 132.44L350.98 129.24Z" fill="#ff0000"/><path d="M361.01 116.21L363.21 119.41L361.01 122.61L358.81 119.41Z" fill="#ff0000"/></g>
<g fill="none" stroke="#000" stroke-width="1.45">
<rect x="45.65" y="17.45" width="325.35" height="300.10"/>
<rect x="45.65" y="317.55" width="325.35" height="160.35"/>
</g>
<path d="M51.80 17.45v8.00M51.80 317.55v-8.00M51.80 317.55v4.90M51.80 477.90v-4.90M61.77 17.45v2.30M61.77 317.55v-2.30M61.77 317.55v2.00M61.77 477.90v-2.00M71.73 17.45v4.00M71.73 317.55v-4.00M71.73 317.55v2.90M71.73 477.90v-2.90M81.70 17.45v2.30M81.70 317.55v-2.30M81.70 317.55v2.00M81.70 477.90v-2.00M91.67 17.45v4.00M91.67 317.55v-4.00M91.67 317.55v2.90M91.67 477.90v-2.90M101.63 17.45v2.30M101.63 317.55v-2.30M101.63 317.55v2.00M101.63 477.90v-2.00M111.60 17.45v4.00M111.60 317.55v-4.00M111.60 317.55v2.90M111.60 477.90v-2.90M121.57 17.45v2.30M121.57 317.55v-2.30M121.57 317.55v2.00M121.57 477.90v-2.00M131.54 17.45v4.00M131.54 317.55v-4.00M131.54 317.55v2.90M131.54 477.90v-2.90M141.50 17.45v2.30M141.50 317.55v-2.30M141.50 317.55v2.00M141.50 477.90v-2.00M151.47 17.45v8.00M151.47 317.55v-8.00M151.47 317.55v4.90M151.47 477.90v-4.90M161.44 17.45v2.30M161.44 317.55v-2.30M161.44 317.55v2.00M161.44 477.90v-2.00M171.40 17.45v4.00M171.40 317.55v-4.00M171.40 317.55v2.90M171.40 477.90v-2.90M181.37 17.45v2.30M181.37 317.55v-2.30M181.37 317.55v2.00M181.37 477.90v-2.00M191.34 17.45v4.00M191.34 317.55v-4.00M191.34 317.55v2.90M191.34 477.90v-2.90M201.31 17.45v2.30M201.31 317.55v-2.30M201.31 317.55v2.00M201.31 477.90v-2.00M211.27 17.45v4.00M211.27 317.55v-4.00M211.27 317.55v2.90M211.27 477.90v-2.90M221.24 17.45v2.30M221.24 317.55v-2.30M221.24 317.55v2.00M221.24 477.90v-2.00M231.21 17.45v4.00M231.21 317.55v-4.00M231.21 317.55v2.90M231.21 477.90v-2.90M241.17 17.45v2.30M241.17 317.55v-2.30M241.17 317.55v2.00M241.17 477.90v-2.00M251.14 17.45v8.00M251.14 317.55v-8.00M251.14 317.55v4.90M251.14 477.90v-4.90M261.11 17.45v2.30M261.11 317.55v-2.30M261.11 317.55v2.00M261.11 477.90v-2.00M271.07 17.45v4.00M271.07 317.55v-4.00M271.07 317.55v2.90M271.07 477.90v-2.90M281.04 17.45v2.30M281.04 317.55v-2.30M281.04 317.55v2.00M281.04 477.90v-2.00M291.01 17.45v4.00M291.01 317.55v-4.00M291.01 317.55v2.90M291.01 477.90v-2.90M300.98 17.45v2.30M300.98 317.55v-2.30M300.98 317.55v2.00M300.98 477.90v-2.00M310.94 17.45v4.00M310.94 317.55v-4.00M310.94 317.55v2.90M310.94 477.90v-2.90M320.91 17.45v2.30M320.91 317.55v-2.30M320.91 317.55v2.00M320.91 477.90v-2.00M330.88 17.45v4.00M330.88 317.55v-4.00M330.88 317.55v2.90M330.88 477.90v-2.90M340.84 17.45v2.30M340.84 317.55v-2.30M340.84 317.55v2.00M340.84 477.90v-2.00M350.81 17.45v8.00M350.81 317.55v-8.00M350.81 317.55v4.90M350.81 477.90v-4.90M360.78 17.45v2.30M360.78 317.55v-2.30M360.78 317.55v2.00M360.78 477.90v-2.00M370.74 17.45v4.00M370.74 317.55v-4.00M370.74 317.55v2.90M370.74 477.90v-2.90M45.65 314.27h5.60M371.00 314.27h-5.60M45.65 302.19h5.60M371.00 302.19h-5.60M45.65 293.61h5.60M371.00 293.61h-5.60M45.65 286.96h5.60M371.00 286.96h-5.60M45.65 281.53h5.60M371.00 281.53h-5.60M45.65 276.93h5.60M371.00 276.93h-5.60M45.65 272.95h5.60M371.00 272.95h-5.60M45.65 269.44h5.60M371.00 269.44h-5.60M45.65 266.30h11.00M371.00 266.30h-11.00M45.65 245.64h5.60M371.00 245.64h-5.60M45.65 233.56h5.60M371.00 233.56h-5.60M45.65 224.98h5.60M371.00 224.98h-5.60M45.65 218.33h5.60M371.00 218.33h-5.60M45.65 212.90h5.60M371.00 212.90h-5.60M45.65 208.30h5.60M371.00 208.30h-5.60M45.65 204.32h5.60M371.00 204.32h-5.60M45.65 200.81h5.60M371.00 200.81h-5.60M45.65 197.67h11.00M371.00 197.67h-11.00M45.65 177.01h5.60M371.00 177.01h-5.60M45.65 164.93h5.60M371.00 164.93h-5.60M45.65 156.35h5.60M371.00 156.35h-5.60M45.65 149.70h5.60M371.00 149.70h-5.60M45.65 144.27h5.60M371.00 144.27h-5.60M45.65 139.67h5.60M371.00 139.67h-5.60M45.65 135.69h5.60M371.00 135.69h-5.60M45.65 132.18h5.60M371.00 132.18h-5.60M45.65 129.04h11.00M371.00 129.04h-11.00M45.65 108.38h5.60M371.00 108.38h-5.60M45.65 96.30h5.60M371.00 96.30h-5.60M45.65 87.72h5.60M371.00 87.72h-5.60M45.65 81.07h5.60M371.00 81.07h-5.60M45.65 75.64h5.60M371.00 75.64h-5.60M45.65 71.04h5.60M371.00 71.04h-5.60M45.65 67.06h5.60M371.00 67.06h-5.60M45.65 63.55h5.60M371.00 63.55h-5.60M45.65 60.41h11.00M371.00 60.41h-11.00M45.65 39.75h5.60M371.00 39.75h-5.60M45.65 27.67h5.60M371.00 27.67h-5.60M45.65 19.09h5.60M371.00 19.09h-5.60M45.65 477.90h5.00M371.00 477.90h-5.00M45.65 458.38h7.00M371.00 458.38h-7.00M45.65 442.44h5.00M371.00 442.44h-5.00M45.65 428.95h5.00M371.00 428.95h-5.00M45.65 417.27h5.00M371.00 417.27h-5.00M45.65 406.97h5.00M371.00 406.97h-5.00M45.65 397.75h7.00M371.00 397.75h-7.00M45.65 389.42h5.00M371.00 389.42h-5.00M45.65 381.81h5.00M371.00 381.81h-5.00M45.65 374.81h5.00M371.00 374.81h-5.00M45.65 368.32h5.00M371.00 368.32h-5.00M45.65 362.29h5.00M371.00 362.29h-5.00M45.65 356.65h5.00M371.00 356.65h-5.00M45.65 351.34h5.00M371.00 351.34h-5.00M45.65 346.34h5.00M371.00 346.34h-5.00M45.65 341.61h5.00M371.00 341.61h-5.00M45.65 337.13h7.00M371.00 337.13h-7.00M45.65 332.86h5.00M371.00 332.86h-5.00M45.65 328.79h5.00M371.00 328.79h-5.00M45.65 324.90h5.00M371.00 324.90h-5.00M45.65 321.18h5.00M371.00 321.18h-5.00M45.65 317.61h5.00M371.00 317.61h-5.00" fill="none" stroke="#000" stroke-width="1.1"/>
<g font-family="'Liberation Sans', sans-serif" font-size="11.5" fill="#000">
<text x="52.40" y="489.3" font-size="12" text-anchor="middle">0</text>
<text x="152.07" y="489.3" font-size="12" text-anchor="middle">1</text>
<text x="251.74" y="489.3" font-size="12" text-anchor="middle">2</text>
<text x="351.41" y="489.3" font-size="12" text-anchor="middle">3</text>
<text x="39.2" y="65.71" text-anchor="end" font-size="10.6">10<tspan font-size="6.3" dy="-5.4">3</tspan></text>
<text x="39.2" y="134.34" text-anchor="end" font-size="10.6">10<tspan font-size="6.3" dy="-5.4">2</tspan></text>
<text x="40.5" y="201.67" text-anchor="end" font-size="11" letter-spacing="1.2">10</text>
<text x="39" y="270.50" text-anchor="end">1</text>
<text x="38.6" y="340.93" text-anchor="end">2</text>
<text x="374.3" y="341.73">2</text>
<text x="38.6" y="401.55" text-anchor="end">1</text>
<text x="374.3" y="402.35">1</text>
<text x="38.6" y="462.18" text-anchor="end">0.5</text>
<text x="374.3" y="462.98">0.5</text>
</g>
<text x="51.5" y="14" font-family="'Liberation Sans', sans-serif" font-size="12.2">7000 GeV pp</text>
<text x="367" y="14" font-family="'Liberation Sans', sans-serif" font-size="12.2" text-anchor="end">Top (parton level)</text>
<text x="209.5" y="43" font-family="'Liberation Sans', sans-serif" font-size="10.3" text-anchor="middle">&#916;&#981; (ttbar) (dy &lt; 0)</text>
<text x="208" y="302" font-family="'Liberation Sans', sans-serif" font-size="8.3" fill="#999" text-anchor="middle">(MC_FBA_TTBAR)</text>
<text transform="translate(380.4,127.9) rotate(-90) scale(0.96,1)" font-family="'Liberation Sans', sans-serif" font-size="9.9" fill="#777">Rivet 4.1.0, &#8805; 100k events</text>
<text transform="translate(380.6,313.4) rotate(-90) scale(0.96,1)" font-family="'Liberation Sans', sans-serif" font-size="9.9" fill="#777">mcplots.cern.ch [arXiv:2401.10621]</text>
<text transform="translate(17.2,458) rotate(-90)" font-family="'Liberation Sans', sans-serif" font-size="9">Ratio to Herwig++ 2.7.1 default</text>
<line x1="64" y1="62.30" x2="88.6" y2="62.30" stroke="#b5641e" stroke-width="1.1" stroke-dasharray="2.5,2"/>
<circle cx="76.30" cy="62.30" r="2.45" fill="none" stroke="#b5641e" stroke-width="1.1"/>
<text x="94.3" y="64.90" font-family="'Liberation Sans', sans-serif" font-size="9.5">Herwig++ 2.7.1 default</text>
<line x1="64" y1="75.25" x2="88.6" y2="75.25" stroke="#3a9a1a" stroke-width="1.1" stroke-dasharray="2.5,2"/>
<rect x="73.50" y="72.45" width="5.60" height="5.60" fill="none" stroke="#3a9a1a" stroke-width="1.1"/>
<text x="94.3" y="77.85" font-family="'Liberation Sans', sans-serif" font-size="9.5">Herwig 7.2.1 default</text>
<line x1="64" y1="88.20" x2="88.6" y2="88.20" stroke="#0000ff" stroke-width="1.1"/>
<path d="M76.30 85.20L79.05 90.50L73.55 90.50Z" fill="#0000ff"/>
<text x="94.3" y="90.80" font-family="'Liberation Sans', sans-serif" font-size="9.5">Pythia 8.315 default</text>
<line x1="64" y1="101.15" x2="88.6" y2="101.15" stroke="#1a9cc8" stroke-width="1.1" stroke-dasharray="4,1.5,1,1.5"/>
<path d="M76.30 104.15L79.05 98.85L73.55 98.85Z" fill="#1a9cc8"/>
<text x="94.3" y="103.75" font-family="'Liberation Sans', sans-serif" font-size="9.5">Pythia 8.315 vincia-default</text>
<line x1="64" y1="114.10" x2="88.6" y2="114.10" stroke="#ff0000" stroke-width="1.1" stroke-dasharray="1,1.5"/>
<path d="M76.30 110.90L78.50 114.10L76.30 117.30L74.10 114.10Z" fill="#ff0000"/>
<text x="94.3" y="116.70" font-family="'Liberation Sans', sans-serif" font-size="9.5">Sherpa 1.4.5 default</text>
</svg>
</body></html>
